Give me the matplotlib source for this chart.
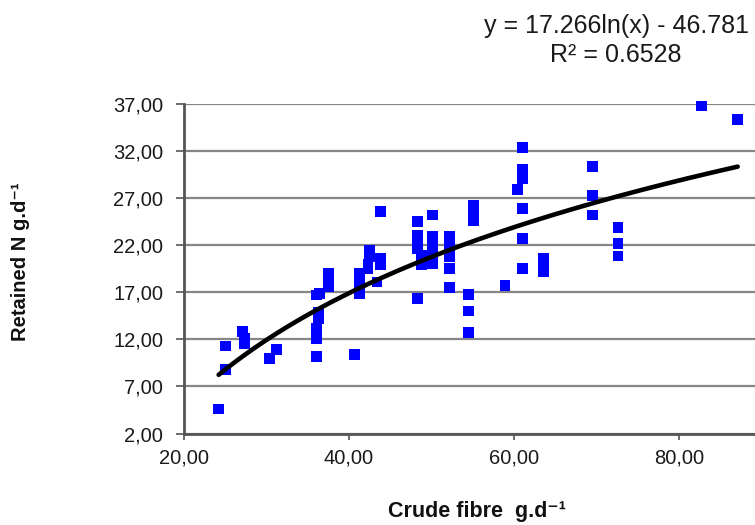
import matplotlib
matplotlib.use("Agg")
import matplotlib.pyplot as plt
import numpy as np
from matplotlib.ticker import FuncFormatter

crude_fibre = [24.2, 25.0, 25.0, 27.1, 27.3, 27.3, 30.4, 31.2,
               36.1, 36.1, 36.1, 36.3, 36.3, 36.1, 36.4,
               37.5, 37.5, 37.5, 40.7,
               41.3, 41.3, 41.3, 41.3,
               42.5, 42.5, 42.3, 42.3, 43.4, 43.8, 43.8, 43.8,
               48.3, 48.3, 48.3, 48.3, 48.8, 48.8, 48.3,
               50.1, 50.1, 50.1, 50.1, 50.1,
               52.2, 52.2, 52.2, 52.2, 52.2,
               55.1, 55.1, 55.1,
               54.5, 54.5, 54.5,
               58.9, 60.4,
               61.0, 61.0, 61.0, 61.0, 61.0, 61.0,
               63.6, 63.6, 63.6,
               69.5, 69.5, 69.5,
               72.6, 72.6, 72.6,
               82.75, 87.1]
retained_n = [4.6, 8.8, 11.3, 12.8, 12.1, 11.5, 10.0, 10.9,
              10.2, 12.1, 13.2, 14.2, 14.9, 16.7, 16.9,
              19.0, 18.3, 17.6, 10.4,
              19.0, 18.3, 17.6, 16.9,
              21.5, 20.8, 20.0, 19.5, 18.1, 25.6, 20.6, 19.9,
              24.5, 23.0, 22.3, 21.6, 20.9, 19.9, 16.3,
              25.2, 22.9, 22.0, 21.1, 20.0,
              22.9, 21.8, 20.75, 19.5, 17.5,
              26.2, 25.5, 24.6,
              16.8, 15.0, 12.7,
              17.7, 27.9,
              32.4, 30.1, 29.1, 25.9, 22.7, 19.5,
              20.6, 19.9, 19.2,
              30.4, 27.3, 25.2,
              23.9, 22.2, 20.85,
              36.8, 35.35]

coef_a = 17.266
coef_b = -46.781
r_squared = 0.6528
y_ticks = [2, 7, 12, 17, 22, 27, 32, 37]
x_ticks = [20, 40, 60, 80]

W, H = 755, 525
plt.rcParams['font.family'] = ['Liberation Sans', 'DejaVu Sans']
fig = plt.figure(figsize=(W / 100, H / 100), dpi=100)

left, right, top, bottom = 184, 755, 104, 433.5
ax = fig.add_axes([left / W, 1 - bottom / H, (right - left) / W, (bottom - top) / H])

ax.set_xlim(20, 89.2)
ax.set_ylim(2, 37)
ax.set_yticks(y_ticks)
ax.set_xticks(x_ticks)
fmt = FuncFormatter(lambda v, p: f"{v:.2f}".replace('.', ','))
ax.xaxis.set_major_formatter(fmt)
ax.yaxis.set_major_formatter(fmt)

ax.grid(axis='y', color='#868686', linewidth=1.6, zorder=0)
ax.set_axisbelow(True)
for s in ['top', 'right']:
    ax.spines[s].set_visible(False)
for s in ['left', 'bottom']:
    ax.spines[s].set_color('#555555')
    ax.spines[s].set_linewidth(2.0)

ax.tick_params(axis='y', direction='out', length=6, width=1.2, color='#555555',
               pad=9, labelsize=14.5, labelcolor='#1a1a1a')
ax.tick_params(axis='x', direction='out', length=4, width=1.2, color='#555555',
               pad=7, labelsize=14.5, labelcolor='#1a1a1a')

ax.scatter(crude_fibre, retained_n, marker='s', s=60, color='#0000ff',
           edgecolors='none', zorder=3, clip_on=False)

xs = np.linspace(min(crude_fibre), max(crude_fibre), 200)
ax.plot(xs, coef_a * np.log(xs) + coef_b, color='black', linewidth=3.3,
        solid_capstyle='round', zorder=4)

fig.text(616 / W, 1 - 26 / H, f"y = {coef_a}ln(x) - {abs(coef_b)}",
         ha='center', va='center', fontsize=18, color='#1a1a1a')
fig.text(616 / W, 1 - 55 / H, f"R\u00b2 = {r_squared}",
         ha='center', va='center', fontsize=18, color='#1a1a1a')

fig.text(477 / W, 1 - 511 / H, "Crude fibre  g.d\u207b\u00b9",
         ha='center', va='center', fontsize=15.5, fontweight='bold', color='#111111')
fig.text(21 / W, 1 - 262 / H, "Retained N g.d\u207b\u00b9",
         ha='center', va='center', rotation=90, fontsize=14.5, fontweight='bold',
         color='#111111')

fig.savefig('out.png', dpi=100)
